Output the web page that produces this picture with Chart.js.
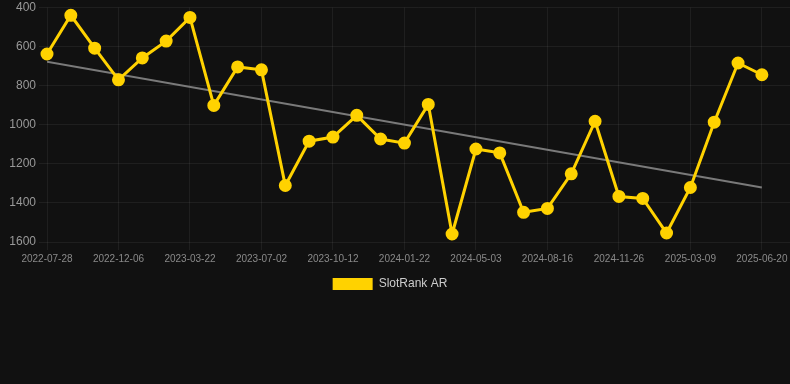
<!DOCTYPE html>
<html>
<head>
<meta charset="utf-8">
<script src="https://cdn.jsdelivr.net/npm/chart.js@4"></script>
<style>
  html, body { margin: 0; padding: 0; background: #111111; }
  #wrap { position: relative; width: 790px; height: 300px; }
</style>
</head>
<body>
<div id="wrap"><canvas id="myChart"></canvas></div>
<script>
// tick labels shown along the x axis (every third point)
const tickLabels = ['2022-07-28', '2022-12-06', '2023-03-22', '2023-07-02', '2023-10-12',
  '2024-01-22', '2024-05-03', '2024-08-16', '2024-11-26', '2025-03-09', '2025-06-20'];

// SlotRank AR values, one per point
const rankValues = [638, 440, 608, 770, 658, 572, 451, 901, 704, 719,
  1311, 1084, 1063, 952, 1073, 1094, 896, 1559, 1124, 1144,
  1448, 1428, 1251, 982, 1367, 1377, 1554, 1321, 987, 684, 744];

// trend line end values
const trendStart = 678;
const trendEnd = 1321;

const yTicks = [400, 600, 800, 1000, 1200, 1400, 1600];

const lastIdx = rankValues.length - 1;
const points = rankValues.map((v, i) => ({ x: i, y: v }));
const trend = [{ x: 0, y: trendStart }, { x: lastIdx, y: trendEnd }];

// nudge the legend a little to the left, like the original
const legendShift = {
  id: 'legendShift',
  afterLayout(chart) {
    chart.legend.left -= 5;
    chart.legend.right -= 5;
  }
};

const ctx = document.getElementById('myChart').getContext('2d');
new Chart(ctx, {
  type: 'line',
  data: {
    datasets: [{
      label: 'SlotRank AR',
      data: points,
      borderColor: '#FFD200',
      backgroundColor: '#FFD200',
      borderWidth: 3,
      pointRadius: 5,
      pointBackgroundColor: '#FFD200',
      pointBorderColor: '#FFD200',
      tension: 0,
      clip: false
    }, {
      label: 'trend',
      data: trend,
      borderColor: '#7a7a7a',
      borderWidth: 2,
      pointRadius: 0,
      fill: false
    }]
  },
  plugins: [legendShift],
  options: {
    responsive: true,
    maintainAspectRatio: false,
    animation: false,
    layout: { autoPadding: false },
    scales: {
      x: {
        type: 'linear',
        min: 0,
        max: 31.18,
        afterBuildTicks: axis => {
          axis.ticks = tickLabels.map((_, i) => ({ value: i * 3 }));
        },
        afterFit: axis => {
          axis.paddingLeft = 0;
          axis.paddingRight = 0;
        },
        grid: { color: 'rgba(255,255,255,0.06)' },
        border: { display: false },
        ticks: {
          color: '#8a8a8a',
          font: { family: 'Liberation Sans', size: 10 },
          maxRotation: 0,
          autoSkip: false,
          callback: v => tickLabels[v / 3]
        }
      },
      y: {
        reverse: true,
        min: 400,
        max: 1600,
        afterBuildTicks: axis => {
          axis.ticks = yTicks.map(v => ({ value: v }));
        },
        afterFit: axis => {
          axis.width = 47;
          axis.paddingTop = 7.5;
        },
        grid: { color: 'rgba(255,255,255,0.06)' },
        border: { display: false },
        ticks: {
          color: '#999999',
          font: { family: 'Liberation Sans', size: 12 },
          callback: v => String(v)
        }
      }
    },
    plugins: {
      legend: {
        position: 'bottom',
        labels: {
          color: '#cccccc',
          boxWidth: 40,
          boxHeight: 12,
          font: { family: 'Liberation Sans', size: 12 },
          filter: item => item.text === 'SlotRank AR',
          generateLabels: chart => Chart.defaults.plugins.legend.labels.generateLabels(chart)
            .map(item => Object.assign(item, { lineWidth: 0 }))
        }
      },
      tooltip: { enabled: false }
    }
  }
});
</script>
</body>
</html>
